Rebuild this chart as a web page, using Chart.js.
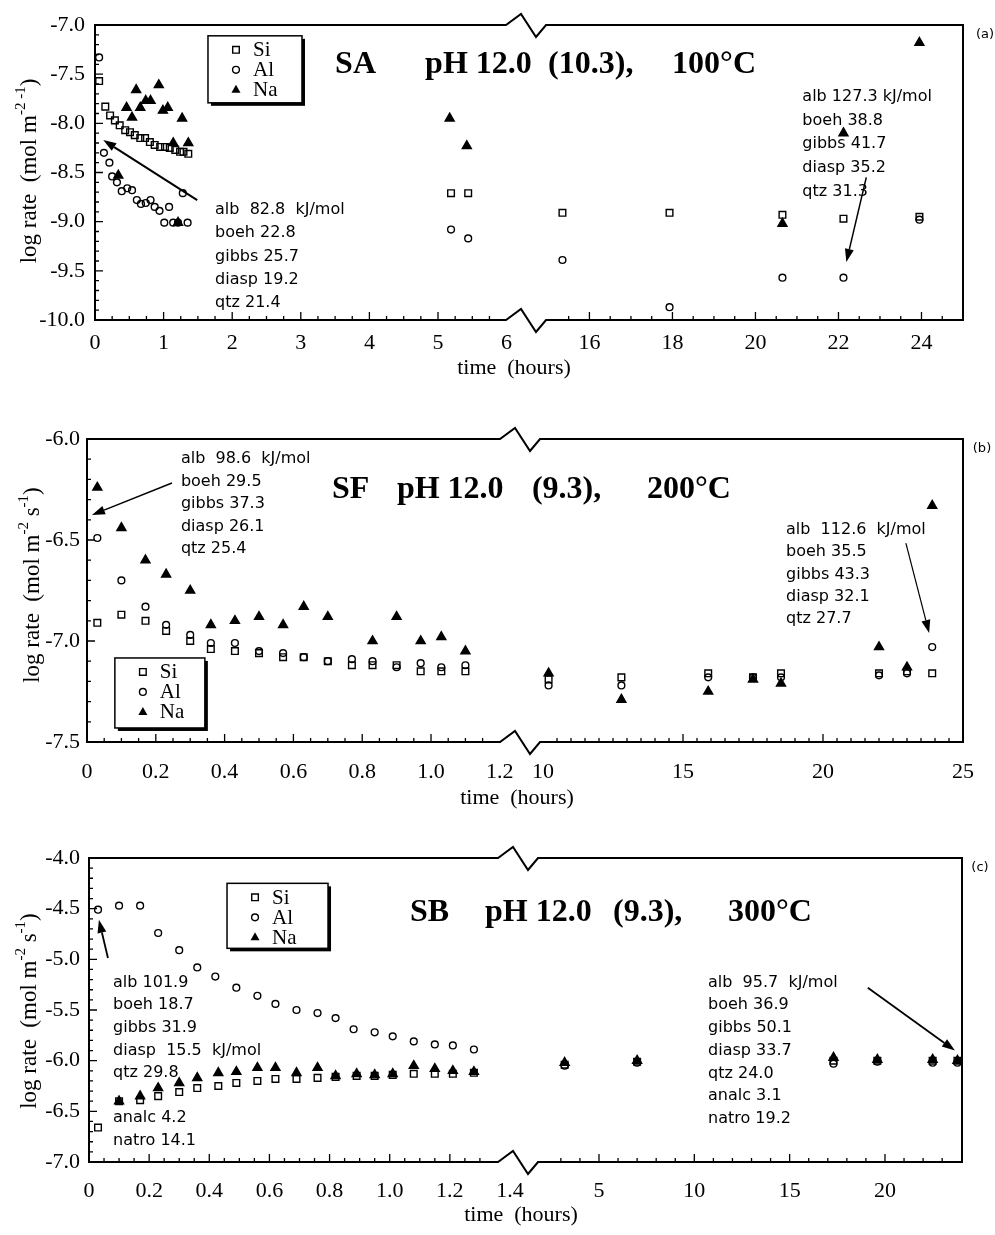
<!DOCTYPE html>
<html>
<head>
<meta charset="utf-8">
<script src="https://cdn.jsdelivr.net/npm/chart.js"></script>
<style>
body { margin: 0; background: #fff; width: 995px; height: 1235px; position: relative; overflow: hidden; }
.panel { position: absolute; left: 0; width: 995px; }
</style>
</head>
<body>
<div class="panel" style="top:0;height:390px"><canvas id="chartA"></canvas></div>
<div class="panel" style="top:395px;height:420px"><canvas id="chartB"></canvas></div>
<div class="panel" style="top:820px;height:415px"><canvas id="chartC"></canvas></div>
<script>
// ---- data: SA, pH 12.0 (10.3), 100°C ----
let saSiT = [0.06, 0.15, 0.22, 0.29, 0.36, 0.44, 0.51, 0.58, 0.66, 0.73, 0.80, 0.87, 0.95, 1.02, 1.09, 1.17, 1.24, 1.29, 1.36, 5.19, 5.44, 15.35, 17.93, 20.65, 22.12, 23.95];
let saSiY = [-7.57, -7.83, -7.92, -7.97, -8.02, -8.07, -8.09, -8.12, -8.15, -8.15, -8.19, -8.22, -8.24, -8.24, -8.25, -8.27, -8.29, -8.29, -8.31, -8.71, -8.71, -8.91, -8.91, -8.93, -8.97, -8.95];
let saAlT = [0.06, 0.13, 0.21, 0.25, 0.32, 0.39, 0.47, 0.54, 0.61, 0.67, 0.74, 0.81, 0.87, 0.94, 1.01, 1.08, 1.14, 1.21, 1.28, 1.35, 5.19, 5.44, 15.35, 17.93, 20.65, 22.12, 23.95];
let saAlY = [-7.33, -8.30, -8.40, -8.54, -8.60, -8.69, -8.66, -8.68, -8.78, -8.82, -8.81, -8.78, -8.85, -8.89, -9.01, -8.85, -9.01, -9.01, -8.71, -9.01, -9.08, -9.17, -9.39, -9.87, -9.57, -9.57, -8.98];
let saNaT = [0.34, 0.46, 0.54, 0.60, 0.66, 0.74, 0.81, 0.93, 0.99, 1.06, 1.14, 1.21, 1.27, 1.36, 5.17, 5.42, 20.65, 22.12, 23.95];
let saNaY = [-8.53, -7.84, -7.94, -7.66, -7.84, -7.77, -7.77, -7.61, -7.87, -7.84, -8.20, -9.01, -7.95, -8.20, -7.95, -8.23, -9.02, -8.10, -7.18];
let saTicksL = [0, 1, 2, 3, 4, 5, 6];
let saTicksR = [16, 18, 20, 22, 24];
let saTicksY = [-10, -9.5, -9, -8.5, -8, -7.5, -7];

// ---- data: SF, pH 12.0 (9.3), 200°C ----
let sfSiT = [0.03, 0.10, 0.17, 0.23, 0.30, 0.36, 0.43, 0.50, 0.57, 0.63, 0.70, 0.77, 0.83, 0.90, 0.97, 1.03, 1.10, 10.2, 12.8, 15.9, 17.5, 18.5, 22.0, 23.0, 23.9];
let sfSiY = [-6.91, -6.87, -6.90, -6.95, -7.00, -7.04, -7.05, -7.06, -7.08, -7.08, -7.10, -7.12, -7.12, -7.12, -7.15, -7.15, -7.15, -7.19, -7.18, -7.16, -7.18, -7.16, -7.16, -7.15, -7.16];
let sfAlT = [0.03, 0.10, 0.17, 0.23, 0.30, 0.36, 0.43, 0.50, 0.57, 0.63, 0.70, 0.77, 0.83, 0.90, 0.97, 1.03, 1.10, 10.2, 12.8, 15.9, 17.5, 18.5, 22.0, 23.0, 23.9];
let sfAlY = [-6.49, -6.70, -6.83, -6.92, -6.97, -7.01, -7.01, -7.05, -7.06, -7.08, -7.10, -7.09, -7.10, -7.13, -7.11, -7.13, -7.12, -7.22, -7.22, -7.18, -7.18, -7.18, -7.17, -7.16, -7.03];
let sfNaT = [0.03, 0.10, 0.17, 0.23, 0.30, 0.36, 0.43, 0.50, 0.57, 0.63, 0.70, 0.83, 0.90, 0.97, 1.03, 1.10, 10.2, 12.8, 15.9, 17.5, 18.5, 22.0, 23.0, 23.9];
let sfNaY = [-6.24, -6.44, -6.60, -6.67, -6.75, -6.92, -6.90, -6.88, -6.92, -6.83, -6.88, -7.00, -6.88, -7.00, -6.98, -7.05, -7.16, -7.29, -7.25, -7.19, -7.21, -7.03, -7.13, -6.33];
let sfTicksL = [0, 0.2, 0.4, 0.6, 0.8, 1.0, 1.2];
let sfTicksR = [10, 15, 20, 25];
let sfTicksY = [-7.5, -7, -6.5, -6];

// ---- data: SB, pH 12.0 (9.3), 300°C ----
let sbSiT = [0.03, 0.10, 0.17, 0.23, 0.30, 0.36, 0.43, 0.49, 0.56, 0.62, 0.69, 0.76, 0.82, 0.89, 0.95, 1.01, 1.08, 1.15, 1.21, 1.28, 3.2, 7.0, 17.3, 19.6, 22.5, 23.8];
let sbSiY = [-6.66, -6.40, -6.39, -6.35, -6.31, -6.27, -6.25, -6.22, -6.20, -6.18, -6.18, -6.17, -6.16, -6.15, -6.15, -6.14, -6.13, -6.13, -6.13, -6.12, -6.04, -6.01, -6.00, -6.00, -6.00, -6.00];
let sbAlT = [0.03, 0.10, 0.17, 0.23, 0.30, 0.36, 0.42, 0.49, 0.56, 0.62, 0.69, 0.76, 0.82, 0.88, 0.95, 1.01, 1.08, 1.15, 1.21, 1.28, 3.2, 7.0, 17.3, 19.6, 22.5, 23.8];
let sbAlY = [-4.51, -4.47, -4.47, -4.74, -4.91, -5.08, -5.17, -5.28, -5.36, -5.44, -5.50, -5.53, -5.58, -5.69, -5.72, -5.76, -5.81, -5.84, -5.85, -5.89, -6.05, -6.02, -6.03, -6.01, -6.02, -6.02];
let sbNaT = [0.10, 0.17, 0.23, 0.30, 0.36, 0.43, 0.49, 0.56, 0.62, 0.69, 0.76, 0.82, 0.89, 0.95, 1.01, 1.08, 1.15, 1.21, 1.28, 3.2, 7.0, 17.3, 19.6, 22.5, 23.8];
let sbNaY = [-6.40, -6.35, -6.27, -6.22, -6.17, -6.12, -6.11, -6.07, -6.07, -6.12, -6.07, -6.15, -6.13, -6.14, -6.13, -6.05, -6.08, -6.10, -6.11, -6.02, -6.00, -5.97, -5.99, -5.99, -6.00];
let sbTicksL = [0, 0.2, 0.4, 0.6, 0.8, 1.0, 1.2, 1.4];
let sbTicksR = [5, 10, 15, 20];
let sbTicksY = [-7, -6.5, -6, -5.5, -5, -4.5, -4];

const SERIF = '"Liberation Serif", "Times New Roman", serif';
const SANS = '"DejaVu Sans", sans-serif';

const kinds = [
    { name: 'Si', style: 'rect', radius: 4.7, fill: 'rgba(0,0,0,0)' },
    { name: 'Al', style: 'circle', radius: 3.4, fill: 'rgba(0,0,0,0)' },
    { name: 'Na', style: 'triangle', radius: 5.2, fill: '#000' }
];

const panels = [
    {
        id: 'chartA', tag: '(a)',
        series: [[saSiT, saSiY], [saAlT, saAlY], [saNaT, saNaY]],
        yMin: -10, yMax: -7, yTicks: saTicksY, yMinor: 0.1,
        lRange: [0, 6.312], rRange: [14.52, 25], lTicks: saTicksL, rTicks: saTicksR,
        lMinor: 0.25, rMinor: 0.5, lWeight: 433, rWeight: 435,
        lFmt: v => String(v),
        pad: { left: 35, right: 32, top: 25, bottom: 25 }, xPad: 10, yPad: 10,
        title: { axis: 'l', x: 3.50, y: -7.407, parts: [['SA', 0], ['pH 12.0', 90], ['(10.3),', 213], ['100°C', 337]] },
        legend: { axis: 'l', x: 1.647, y: -7.11, w: 94, h: 67 },
        notes: [
            { axis: 'l', x: 1.75, y: -8.88, lh: 23.3, lines: ['alb  82.8  kJ/mol', 'boeh 22.8', 'gibbs 25.7', 'diasp 19.2', 'qtz 21.4'] },
            { axis: 'r', x: 21.13, y: -7.73, lh: 23.7, lines: ['alb 127.3 kJ/mol', 'boeh 38.8', 'gibbs 41.7', 'diasp 35.2', 'qtz 31.3'] }
        ],
        arrows: [
            { axis: 'l', from: [1.49, -8.78], to: [0.12, -8.17], w: 2 },
            { axis: 'r', from: [22.67, -8.55], to: [22.19, -9.41], w: 1.5 }
        ],
        yTitle: [['log rate  (mol m', 0], ['-2 -1', 1], [')', 0]], yTitlePos: [30, 171],
        xTitlePos: [514, 368], tagPos: [985, 35]
    },
    {
        id: 'chartB', tag: '(b)',
        series: [[sfSiT, sfSiY], [sfAlT, sfAlY], [sfNaT, sfNaY]],
        yMin: -7.5, yMax: -6, yTicks: sfTicksY, yMinor: 0.1,
        lRange: [0, 1.2645], rRange: [9.25, 25], lTicks: sfTicksL, rTicks: sfTicksR,
        lMinor: 0.05, rMinor: 0.5, lWeight: 435, rWeight: 441,
        lFmt: v => v === 0 ? '0' : v.toFixed(1),
        pad: { left: 27, right: 32, top: 44, bottom: 28 }, xPad: 17, yPad: 7,
        title: { axis: 'l', x: 0.712, y: -6.252, parts: [['SF', 0], ['pH 12.0', 65], ['(9.3),', 200], ['200°C', 315]] },
        legend: { axis: 'l', x: 0.081, y: -7.084, w: 90, h: 70 },
        notes: [
            { axis: 'l', x: 0.273, y: -6.10, lh: 22.5, lines: ['alb  98.6  kJ/mol', 'boeh 29.5', 'gibbs 37.3', 'diasp 26.1', 'qtz 25.4'] },
            { axis: 'r', x: 18.68, y: -6.45, lh: 22.3, lines: ['alb  112.6  kJ/mol', 'boeh 35.5', 'gibbs 43.3', 'diasp 32.1', 'qtz 27.7'] }
        ],
        arrows: [
            { axis: 'l', from: [0.247, -6.218], to: [0.0145, -6.376], w: 1.5 },
            { axis: 'r', from: [22.96, -6.515], to: [23.79, -6.96], w: 1.2 }
        ],
        yTitle: [['log rate  (mol m', 0], ['-2', 1], [' s', 0], ['-1', 1], [')', 0]], yTitlePos: [33, 190],
        xTitlePos: [517, 403], tagPos: [982, 54]
    },
    {
        id: 'chartC', tag: '(c)',
        series: [[sbSiT, sbSiY], [sbAlT, sbAlY], [sbNaT, sbNaY]],
        yMin: -7, yMax: -4, yTicks: sbTicksY, yMinor: 0.1,
        lRange: [0, 1.4333], rRange: [0.857, 24.04], lTicks: sbTicksL, rTicks: sbTicksR,
        lMinor: 0.05, rMinor: 1, lWeight: 431, rWeight: 442,
        lFmt: v => v === 0 ? '0' : v.toFixed(1),
        pad: { left: 29, right: 33, top: 38, bottom: 28 }, xPad: 16, yPad: 9,
        title: { axis: 'l', x: 1.0675, y: -4.543, parts: [['SB', 0], ['pH 12.0', 75], ['(9.3),', 203], ['300°C', 318]] },
        legend: { axis: 'l', x: 0.459, y: -4.25, w: 101, h: 65 },
        notes: [
            { axis: 'l', x: 0.08, y: -5.23, lh: 22.6, lines: ['alb 101.9', 'boeh 18.7', 'gibbs 31.9', 'diasp  15.5  kJ/mol', 'qtz 29.8', '', 'analc 4.2', 'natro 14.1'] },
            { axis: 'r', x: 10.72, y: -5.23, lh: 22.7, lines: ['alb  95.7  kJ/mol', 'boeh 36.9', 'gibbs 50.1', 'diasp 33.7', 'qtz 24.0', 'analc 3.1', 'natro 19.2'] }
        ],
        arrows: [
            { axis: 'l', from: [0.063, -4.987], to: [0.033, -4.61], w: 1.8 },
            { axis: 'r', from: [19.1, -5.28], to: [23.67, -5.90], w: 1.8 }
        ],
        yTitle: [['log rate  (mol m', 0], ['-2', 1], [' s', 0], ['-1', 1], [')', 0]], yTitlePos: [30, 191],
        xTitlePos: [521, 395], tagPos: [980, 48]
    }
];

function splitPts(ts, ys, brk, left) {
    let out = [];
    ts.forEach((t, i) => {
        if ((t <= brk) === left) out.push({ x: t, y: ys[i] });
    });
    return out;
}

function marker(ctx, style, x, y) {
    ctx.beginPath();
    if (style === 'rect') {
        ctx.lineWidth = 1.4;
        ctx.rect(x - 3.3, y - 3.3, 6.6, 6.6);
        ctx.stroke();
    } else if (style === 'circle') {
        ctx.lineWidth = 1.4;
        ctx.arc(x, y, 3.4, 0, Math.PI * 2);
        ctx.stroke();
    } else {
        ctx.moveTo(x, y - 5);
        ctx.lineTo(x + 4.5, y + 3);
        ctx.lineTo(x - 4.5, y + 3);
        ctx.closePath();
        ctx.fill();
    }
}

function arrow(ctx, x1, y1, x2, y2, w) {
    let ang = Math.atan2(y2 - y1, x2 - x1);
    let len = 13, hw = 4.5;
    let bx = x2 - len * Math.cos(ang), by = y2 - len * Math.sin(ang);
    ctx.lineWidth = w;
    ctx.beginPath();
    ctx.moveTo(x1, y1);
    ctx.lineTo(bx, by);
    ctx.stroke();
    ctx.beginPath();
    ctx.moveTo(x2, y2);
    ctx.lineTo(bx + hw * Math.sin(ang), by - hw * Math.cos(ang));
    ctx.lineTo(bx - hw * Math.sin(ang), by + hw * Math.cos(ang));
    ctx.closePath();
    ctx.fill();
}

function makeDecor(s) {
    return {
        id: 'decor',
        afterDraw(chart) {
            let ctx = chart.ctx, a = chart.chartArea;
            let xl = chart.scales.xl, xr = chart.scales.xr, ys = chart.scales.y;
            let X = (ax, v) => (ax === 'l' ? xl : xr).getPixelForValue(v);
            let Y = v => ys.getPixelForValue(v);
            let B = xl.right;
            ctx.save();
            ctx.strokeStyle = '#000';
            ctx.fillStyle = '#000';

            // frame with axis-break marks
            ctx.lineWidth = 2;
            ctx.beginPath();
            ctx.moveTo(a.left, a.top);
            ctx.lineTo(B - 22, a.top);
            ctx.lineTo(B - 7, a.top - 11);
            ctx.lineTo(B + 8, a.top + 12);
            ctx.lineTo(B + 18, a.top);
            ctx.lineTo(a.right, a.top);
            ctx.lineTo(a.right, a.bottom);
            ctx.lineTo(B + 18, a.bottom);
            ctx.lineTo(B + 8, a.bottom + 12);
            ctx.lineTo(B - 7, a.bottom - 11);
            ctx.lineTo(B - 22, a.bottom);
            ctx.lineTo(a.left, a.bottom);
            ctx.closePath();
            ctx.stroke();

            // inward tick marks
            ctx.lineWidth = 1.3;
            ctx.beginPath();
            let n = Math.round((s.yMax - s.yMin) / s.yMinor);
            for (let i = 0; i <= n; i++) {
                let v = s.yMin + i * s.yMinor;
                let major = s.yTicks.some(t => Math.abs(t - v) < 1e-6);
                let p = Y(v);
                ctx.moveTo(a.left, p);
                ctx.lineTo(a.left + (major ? 8 : 4), p);
            }
            [['l', s.lRange, s.lMinor, s.lTicks], ['r', s.rRange, s.rMinor, s.rTicks]].forEach(([ax, rg, step, tks]) => {
                let i0 = Math.ceil(rg[0] / step - 1e-6), i1 = Math.floor(rg[1] / step + 1e-6);
                for (let i = i0; i <= i1; i++) {
                    let v = i * step;
                    let p = X(ax, v);
                    if (Math.abs(p - B) < 26 || p < a.left + 2 || p > a.right - 2) continue;
                    let major = tks.some(t => Math.abs(t - v) < 1e-6);
                    ctx.moveTo(p, a.bottom);
                    ctx.lineTo(p, a.bottom - (major ? 8 : 4));
                }
            });
            ctx.stroke();

            // title
            ctx.font = 'bold 32px ' + SERIF;
            ctx.textBaseline = 'middle';
            ctx.textAlign = 'left';
            let tx = X(s.title.axis, s.title.x), ty = Y(s.title.y);
            s.title.parts.forEach(([t, dx]) => ctx.fillText(t, tx + dx, ty));

            // legend box
            let lg = s.legend;
            let lx = X(lg.axis, lg.x), ly = Y(lg.y);
            ctx.fillRect(lx + 3, ly + 3, lg.w, lg.h);
            ctx.fillStyle = '#fff';
            ctx.fillRect(lx, ly, lg.w, lg.h);
            ctx.fillStyle = '#000';
            ctx.lineWidth = 1.5;
            ctx.strokeRect(lx, ly, lg.w, lg.h);
            ctx.font = '21px ' + SERIF;
            kinds.forEach((k, i) => {
                let yy = ly + 14 + 20 * i;
                marker(ctx, k.style, lx + 28, yy);
                ctx.fillText(k.name, lx + 45, yy + 1);
            });

            // activation energy notes
            ctx.font = '16px ' + SANS;
            s.notes.forEach(nt => {
                let nx = X(nt.axis, nt.x), ny = Y(nt.y);
                nt.lines.forEach((t, i) => ctx.fillText(t, nx, ny + i * nt.lh));
            });

            // arrows
            s.arrows.forEach(ar => {
                arrow(ctx, X(ar.axis, ar.from[0]), Y(ar.from[1]), X(ar.axis, ar.to[0]), Y(ar.to[1]), ar.w);
            });

            // axis titles
            ctx.font = '22px ' + SERIF;
            ctx.textAlign = 'center';
            ctx.fillText('time  (hours)', s.xTitlePos[0], s.xTitlePos[1]);

            ctx.save();
            ctx.translate(s.yTitlePos[0], s.yTitlePos[1]);
            ctx.rotate(-Math.PI / 2);
            ctx.textAlign = 'left';
            let fontOf = sup => (sup ? '15px ' : '23px ') + SERIF;
            let total = 0;
            s.yTitle.forEach(([t, sup]) => { ctx.font = fontOf(sup); total += ctx.measureText(t).width; });
            let cx = -total / 2;
            s.yTitle.forEach(([t, sup]) => {
                ctx.font = fontOf(sup);
                ctx.fillText(t, cx, sup ? -9 : 0);
                cx += ctx.measureText(t).width;
            });
            ctx.restore();

            // panel tag
            ctx.font = '13px ' + SANS;
            ctx.textAlign = 'center';
            ctx.fillText(s.tag, s.tagPos[0], s.tagPos[1]);
            ctx.restore();
        }
    };
}

panels.forEach(s => {
    let datasets = [];
    s.series.forEach(([ts, vals], k) => {
        ['l', 'r'].forEach(side => {
            datasets.push({
                label: kinds[k].name,
                xAxisID: side === 'l' ? 'xl' : 'xr',
                yAxisID: 'y',
                data: splitPts(ts, vals, s.lRange[1], side === 'l'),
                pointStyle: kinds[k].style,
                pointRadius: kinds[k].radius,
                pointHoverRadius: kinds[k].radius,
                pointBorderWidth: 1.4,
                pointBorderColor: '#000',
                pointBackgroundColor: kinds[k].fill,
                showLine: false
            });
        });
    });

    let tickFont = { family: SERIF, size: 22 };
    let xAxis = (range, ticks, weight, fmt) => ({
        type: 'linear',
        position: 'bottom',
        stack: 'x',
        stackWeight: weight,
        min: range[0],
        max: range[1],
        afterBuildTicks: sc => { sc.ticks = ticks.map(v => ({ value: v })); },
        afterFit: sc => { sc.height = 45; },
        grid: { display: false, drawTicks: false },
        border: { display: false },
        ticks: { color: '#000', font: tickFont, padding: s.xPad, autoSkip: false, maxRotation: 0, callback: v => fmt(v) }
    });

    new Chart(document.getElementById(s.id), {
        type: 'scatter',
        data: { datasets: datasets },
        options: {
            responsive: true,
            maintainAspectRatio: false,
            animation: false,
            layout: { padding: s.pad },
            plugins: { legend: { display: false }, tooltip: { enabled: false } },
            scales: {
                y: {
                    type: 'linear',
                    position: 'left',
                    min: s.yMin,
                    max: s.yMax,
                    afterBuildTicks: sc => { sc.ticks = s.yTicks.map(v => ({ value: v })); },
                    afterFit: sc => { sc.width = 60; },
                    grid: { display: false, drawTicks: false },
                    border: { display: false },
                    ticks: { color: '#000', font: tickFont, padding: s.yPad, callback: v => v.toFixed(1) }
                },
                xl: xAxis(s.lRange, s.lTicks, s.lWeight, s.lFmt),
                xr: xAxis(s.rRange, s.rTicks, s.rWeight, v => String(v))
            }
        },
        plugins: [makeDecor(s)]
    });
});
</script>
</body>
</html>
